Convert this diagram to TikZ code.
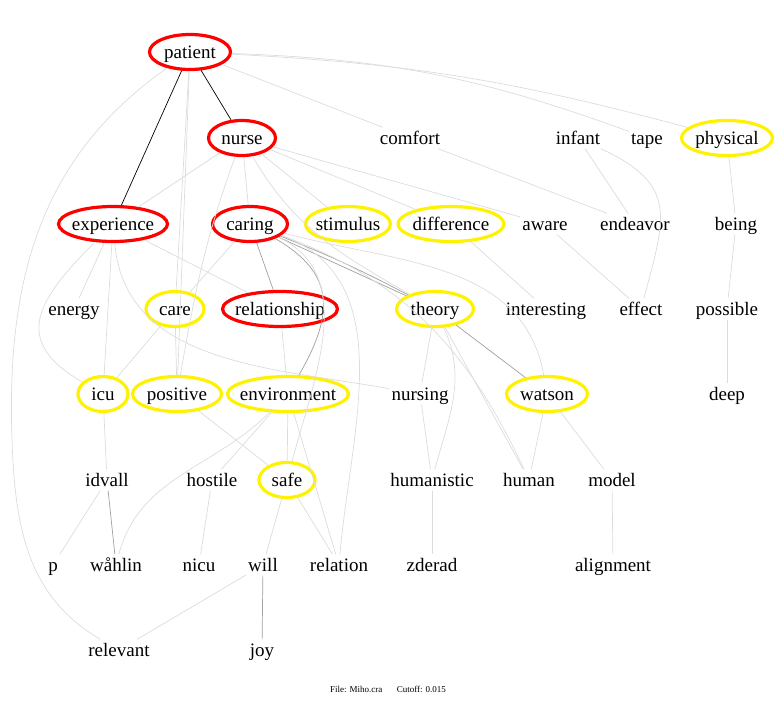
\documentclass[tikz,border=0pt]{standalone}
\usepackage{fontspec}
\setmainfont{Liberation Serif}
\usetikzlibrary{shapes,arrows.meta,calc,positioning}

\definecolor{faint}{HTML}{DCDCDC}
\definecolor{mid}{HTML}{A0A0A0}

\begin{document}
\begin{tikzpicture}[x=1pt,y=1pt]

\tikzset{word/.style = {font=\fontsize{19}{22}\selectfont, inner sep=2pt, text height=15pt, text depth=2pt}}
\tikzset{hot/.style = {word, shape=ellipse, draw=red, line width=3.2pt, inner xsep=-14pt, inner ysep=-6pt, minimum height=35pt, minimum width=#1}}
\tikzset{warm/.style = {hot=#1, draw=yellow}}
\tikzset{edge0/.style = {black, line width=0.7pt}}
\tikzset{edge1/.style = {mid, line width=0.7pt}}
\tikzset{edge2/.style = {faint, line width=0.7pt}}

\useasboundingbox (0,0) rectangle (777,-703);

% vertices
\node[hot=81pt] (patient) at (190,-52) {patient};
\node[hot=67pt] (nurse) at (242,-138) {nurse};
\node[word] (comfort) at (410,-138) {comfort};
\node[word] (infant) at (578,-138) {infant};
\node[word] (tape) at (647,-138) {tape};
\node[warm=91pt] (physical) at (727,-138) {physical};

\node[hot=109pt] (experience) at (113,-224) {experience};
\node[hot=75pt] (caring) at (250,-224) {caring};
\node[warm=85pt] (stimulus) at (348,-224) {stimulus};
\node[warm=106pt] (difference) at (451,-224) {difference};
\node[word] (aware) at (545,-224) {aware};
\node[word] (endeavor) at (635,-224) {endeavor};
\node[word] (being) at (736,-224) {being};

\node[word] (energy) at (74,-309) {energy};
\node[warm=58pt] (care) at (175,-309) {care};
\node[hot=115pt] (relationship) at (280,-309) {relationship};
\node[warm=77pt] (theory) at (435,-309) {theory};
\node[word] (interesting) at (546,-309) {interesting};
\node[word] (effect) at (641,-309) {effect};
\node[word] (possible) at (727,-309) {possible};

\node[warm=50pt] (icu) at (103,-394) {icu};
\node[warm=89pt] (positive) at (177,-394) {positive};
\node[warm=121pt] (environment) at (288,-394) {environment};
\node[word] (nursing) at (420,-394) {nursing};
\node[warm=81pt] (watson) at (547,-394) {watson};
\node[word] (deep) at (727,-394) {deep};

\node[word] (idvall) at (107,-480) {idvall};
\node[word] (hostile) at (212,-480) {hostile};
\node[warm=56pt] (safe) at (287,-480) {safe};
\node[word] (humanistic) at (432,-480) {humanistic};
\node[word] (human) at (529,-480) {human};
\node[word] (model) at (612,-480) {model};

\node[word] (p) at (53,-565) {p};
\node[word] (wahlin) at (116,-565) {wåhlin};
\node[word] (nicu) at (199,-565) {nicu};
\node[word] (will) at (263,-565) {will};
\node[word] (relation) at (339,-565) {relation};
\node[word] (zderad) at (432,-565) {zderad};
\node[word] (alignment) at (613,-565) {alignment};

\node[word] (relevant) at (119,-650) {relevant};
\node[word] (joy) at (262,-650) {joy};

\node[font=\fontsize{9}{10}\selectfont] (footer) at (388,-689) {File: Miho.cra\hspace{1.6em}Cutoff: 0.015};

\coordinate (leftside) at (12,-440);

%edges
\draw[edge0] (patient) to (experience);
\draw[edge0] (patient) to (nurse);

\draw[edge1] (caring) to (relationship);
\draw[edge1] (caring) to (theory);
\draw[edge1] (caring) to[bend left=3] (theory);
\draw[edge1] (caring) to[out=-30,in=60,looseness=1.3] (environment);
\draw[edge1] (theory) to (watson);
\draw[edge1] (idvall) to (wahlin);
\draw[edge1] (will) to (joy);

\draw[edge2] (patient) to (comfort);
\draw[edge2] (patient) to[out=-2,in=160] (tape);
\draw[edge2] (patient) to[out=-3,in=165] (physical);
\draw[edge2] (patient) to[out=215,in=92] (leftside) to[out=-88,in=150] (relevant);
\draw[edge2] (patient) to (care);
\draw[edge2] (patient) to (positive);
\draw[edge2] (nurse) to (experience);
\draw[edge2] (nurse) to (caring);
\draw[edge2] (nurse) to[out=-110,in=80] (positive);
\draw[edge2] (nurse) to (stimulus);
\draw[edge2] (nurse) to (difference);
\draw[edge2] (nurse) to (aware);
\draw[edge2] (nurse) to[out=-60,in=150] (theory);
\draw[edge2] (comfort) to (endeavor);
\draw[edge2] (infant) to (endeavor);
\draw[edge2] (infant) to[out=-25,in=75,looseness=1.4] (effect);
\draw[edge2] (physical) to (being);
\draw[edge2] (being) to (possible);
\draw[edge2] (possible) to (deep);

\draw[edge2] (experience) to (energy);
\draw[edge2] (experience) to (icu);
\draw[edge2] (experience) to[out=225,in=150,looseness=1.5] (icu);
\draw[edge2] (experience) to (relationship);
\draw[edge2] (experience) to[out=-85,in=170] (nursing);
\draw[edge2] (caring) to (care);
\draw[edge2] (caring) to[out=-25,in=75] (safe);
\draw[edge2] (caring) to[out=-20,in=85] (relation);
\draw[edge2] (caring) to[out=-15,in=100] (watson);
\draw[edge2] (caring) to[out=-20,in=115] (human);
\draw[edge2] (difference) to (interesting);
\draw[edge2] (aware) to (effect);

\draw[edge2] (care) to (icu);
\draw[edge2] (care) to (positive);
\draw[edge2] (relationship) to (environment);
\draw[edge2] (theory) to (nursing);
\draw[edge2] (theory) to[out=-65,in=75] (humanistic);
\draw[edge2] (theory) to (human);
\draw[edge2] (nursing) to (humanistic);
\draw[edge2] (watson) to (human);
\draw[edge2] (watson) to (model);

\draw[edge2] (positive) to (safe);
\draw[edge2] (environment) to (hostile);
\draw[edge2] (environment) to[out=-135,in=75] (wahlin);
\draw[edge2] (environment) to (safe);
\draw[edge2] (environment) to (relation);
\draw[edge2] (icu) to (idvall);
\draw[edge2] (idvall) to (p);
\draw[edge2] (hostile) to (nicu);
\draw[edge2] (safe) to (will);
\draw[edge2] (safe) to (relation);
\draw[edge2] (will) to (relevant);
\draw[edge2] (humanistic) to (zderad);
\draw[edge2] (model) to (alignment);

\end{tikzpicture}
\end{document}
